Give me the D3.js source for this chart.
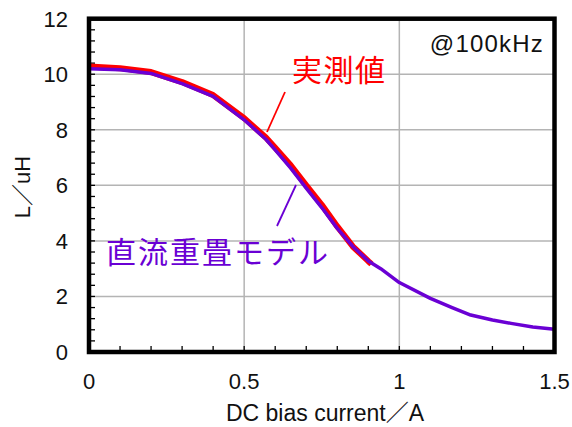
<!DOCTYPE html>
<html>
<head>
<meta charset="utf-8">
<script src="https://cdn.jsdelivr.net/npm/d3@7"></script>
<style>
  html, body { margin: 0; padding: 0; background: #fff; }
  svg { display: block; }
  text { font-family: "Liberation Sans", Arial, "Noto Sans CJK JP", sans-serif; }
</style>
</head>
<body>
<svg id="chart" width="572" height="427"></svg>
<script>
// DC bias current (A) and inductance (uH)
const measuredCurrent = [0, 0.1, 0.2, 0.3, 0.4, 0.5, 0.57, 0.6, 0.65, 0.7, 0.75, 0.8, 0.85, 0.9, 0.91];
const measuredL       = [10.28, 10.22, 10.08, 9.72, 9.25, 8.42, 7.72, 7.35, 6.72, 6.0, 5.3, 4.52, 3.8, 3.27, 3.17];

const modelCurrent = [0, 0.1, 0.2, 0.3, 0.4, 0.5, 0.57, 0.6, 0.65, 0.7, 0.75, 0.8, 0.85, 0.9, 0.94, 1.0, 1.1, 1.17, 1.23, 1.3, 1.36, 1.43, 1.5];
const modelL       = [10.2, 10.16, 10.03, 9.66, 9.2, 8.36, 7.66, 7.28, 6.62, 5.9, 5.2, 4.45, 3.8, 3.28, 3.0, 2.5, 1.93, 1.6, 1.33, 1.15, 1.03, 0.9, 0.82];

const xTicks = [0, 0.5, 1, 1.5];
const xTickLabels = ["0", "0.5", "1", "1.5"];
const yTicks = [0, 2, 4, 6, 8, 10, 12];
const yTickLabels = ["0", "2", "4", "6", "8", "10", "12"];

const xTitle = "DC bias current／A";
const yTitle = "L／uH";
const freqNote = "@100kHz";
const measuredName = "実測値";
const modelName = "直流重畳モデル";

const red = "#ff0000";
const purple = "#6a00d4";

const svg = d3.select("#chart");
const plotLeft = 89, plotRight = 554.5, plotTop = 18.7, plotBottom = 352;

const x = d3.scaleLinear().domain([0, 1.5]).range([plotLeft, plotRight]);
const y = d3.scaleLinear().domain([0, 12]).range([plotBottom, plotTop]);

// grid lines
const grid = svg.append("g");
grid.selectAll("line.gx")
  .data(xTicks.filter(v => v > 0 && v < 1.5))
  .join("line")
  .attr("x1", d => x(d)).attr("x2", d => x(d))
  .attr("y1", plotTop).attr("y2", plotBottom)
  .attr("stroke", "#b4b4b4").attr("stroke-width", 1.5);
grid.selectAll("line.gy")
  .data(yTicks.filter(v => v > 0 && v < 12))
  .join("line")
  .attr("y1", d => y(d)).attr("y2", d => y(d))
  .attr("x1", plotLeft).attr("x2", plotRight)
  .attr("stroke", "#b4b4b4").attr("stroke-width", 1.5);

// inner ticks
const xMinor = d3.range(1, 15).map(i => i / 10);
const yMinor = d3.range(1, 30).map(i => i * 0.4);
svg.append("g").selectAll("line")
  .data(xMinor).join("line")
  .attr("x1", d => x(d)).attr("x2", d => x(d))
  .attr("y1", plotBottom).attr("y2", plotBottom - 6)
  .attr("stroke", "#000").attr("stroke-width", 1.3);
svg.append("g").selectAll("line")
  .data(yMinor).join("line")
  .attr("y1", d => y(d)).attr("y2", d => y(d))
  .attr("x1", plotLeft).attr("x2", plotLeft + 6)
  .attr("stroke", "#000").attr("stroke-width", 1.3);

// data lines
const line = d3.line().x(d => x(d[0])).y(d => y(d[1])).curve(d3.curveLinear);
const measuredPts = measuredCurrent.map((c, i) => [c, measuredL[i]]);
const modelPts = modelCurrent.map((c, i) => [c, modelL[i]]);

svg.append("path")
  .attr("d", line(measuredPts))
  .attr("fill", "none").attr("stroke", red)
  .attr("stroke-width", 6).attr("stroke-linejoin", "round");
svg.append("path")
  .attr("d", line(modelPts))
  .attr("fill", "none").attr("stroke", purple)
  .attr("stroke-width", 3.5).attr("stroke-linejoin", "round");

// frame
svg.append("rect")
  .attr("x", plotLeft).attr("y", plotTop)
  .attr("width", plotRight - plotLeft).attr("height", plotBottom - plotTop)
  .attr("fill", "none").attr("stroke", "#000").attr("stroke-width", 4.5);

// tick labels
svg.append("g").selectAll("text")
  .data(xTicks).join("text")
  .attr("x", d => x(d)).attr("y", plotBottom + 37)
  .attr("text-anchor", "middle")
  .attr("font-size", 22).attr("fill", "#111")
  .text((d, i) => xTickLabels[i]);
svg.append("g").selectAll("text")
  .data(yTicks).join("text")
  .attr("x", 68).attr("y", d => y(d) + 8)
  .attr("text-anchor", "end")
  .attr("font-size", 22).attr("fill", "#111")
  .text((d, i) => yTickLabels[i]);

// axis titles
svg.append("text")
  .attr("x", 325).attr("y", 421)
  .attr("text-anchor", "middle")
  .attr("font-size", 23).attr("fill", "#111")
  .text(xTitle);
svg.append("text")
  .attr("transform", "translate(30,187) rotate(-90)")
  .attr("text-anchor", "middle")
  .attr("font-size", 22).attr("fill", "#111")
  .text(yTitle);

// frequency note
svg.append("text")
  .attr("x", 544).attr("y", 52)
  .attr("text-anchor", "end")
  .attr("font-size", 24).attr("letter-spacing", 1.2).attr("fill", "#111")
  .text(freqNote);

// series labels with leader lines
svg.append("line")
  .attr("x1", 285).attr("y1", 92).attr("x2", 267).attr("y2", 132)
  .attr("stroke", red).attr("stroke-width", 1.8);
svg.append("text")
  .attr("x", 292).attr("y", 81)
  .attr("font-size", 30).attr("letter-spacing", 1.5).attr("fill", red)
  .style("font-family", "'Noto Sans CJK JP', sans-serif")
  .text(measuredName);

svg.append("line")
  .attr("x1", 277).attr("y1", 226).attr("x2", 296).attr("y2", 185)
  .attr("stroke", purple).attr("stroke-width", 1.8);
svg.append("text")
  .attr("x", 106).attr("y", 263)
  .attr("font-size", 30).attr("letter-spacing", 2).attr("fill", purple)
  .style("font-family", "'Noto Sans CJK JP', sans-serif")
  .text(modelName);
</script>
</body>
</html>
